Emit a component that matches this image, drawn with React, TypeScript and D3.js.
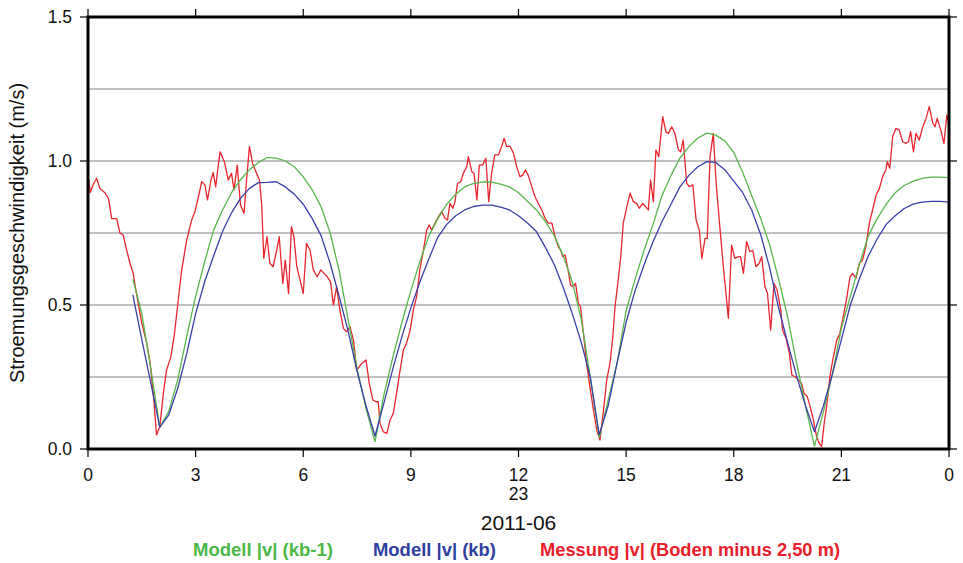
import React from "react";
import * as d3 from "d3";

// Hours of the day (23 June 2011) for the model output, every 15 minutes
const modelHours: number[] = d3.range(1.25, 24.001, 0.25);

// Model |v| (kb-1), m/s
const modelKb1: number[] = [
  0.59, 0.47, 0.28, 0.075,
  0.13, 0.24, 0.39, 0.53, 0.65, 0.76, 0.83, 0.89, 0.935, 0.97, 0.995, 1.012,
  1.01, 1.0, 0.98, 0.945, 0.9, 0.84, 0.75, 0.62, 0.45, 0.28, 0.14, 0.025,
  0.19, 0.32, 0.44, 0.55, 0.65, 0.74, 0.8, 0.85, 0.885, 0.91, 0.922, 0.927,
  0.927, 0.92, 0.91, 0.89, 0.86, 0.83, 0.79, 0.74, 0.67, 0.58, 0.45, 0.25, 0.04,
  0.17, 0.3, 0.48, 0.59, 0.69, 0.78, 0.88, 0.95, 1.01, 1.05, 1.08, 1.097,
  1.09, 1.07, 1.03, 0.96, 0.88, 0.8, 0.71, 0.59, 0.46, 0.3, 0.15, 0.01,
  0.13, 0.26, 0.42, 0.53, 0.64, 0.74, 0.8, 0.85, 0.89, 0.915, 0.93, 0.94, 0.944, 0.944, 0.942,
];

// Model |v| (kb), m/s
const modelKb: number[] = [
  0.535, 0.38, 0.23, 0.076,
  0.118, 0.21, 0.33, 0.47, 0.58, 0.67, 0.755, 0.82, 0.87, 0.905, 0.925, 0.926,
  0.928, 0.91, 0.885, 0.85, 0.8, 0.74, 0.645, 0.53, 0.41, 0.27, 0.15, 0.045,
  0.16, 0.28, 0.39, 0.49, 0.58, 0.66, 0.735, 0.78, 0.81, 0.83, 0.842, 0.847,
  0.847, 0.84, 0.83, 0.81, 0.785, 0.755, 0.7, 0.64, 0.56, 0.47, 0.37, 0.25, 0.05,
  0.15, 0.3, 0.44, 0.55, 0.64, 0.72, 0.79, 0.85, 0.91, 0.95, 0.98, 0.998,
  0.995, 0.97, 0.93, 0.89, 0.83, 0.745, 0.63, 0.49, 0.37, 0.255, 0.15, 0.06,
  0.15, 0.26, 0.38, 0.5, 0.59, 0.67, 0.73, 0.78, 0.81, 0.835, 0.85, 0.857, 0.86, 0.86, 0.857,
];

// Measured |v| near the bottom (2.50 m above bed): time in hours
const measHours: number[] = [
  0.0, 0.06, 0.15, 0.24, 0.33, 0.47, 0.57, 0.66, 0.8, 0.89, 0.98, 1.08, 1.17, 1.26, 1.31, 1.4,
  1.5, 1.64, 1.73, 1.82, 1.91, 2.0, 2.1, 2.19, 2.31, 2.41, 2.5, 2.61, 2.75, 2.89, 2.98, 3.08,
  3.17, 3.26, 3.33, 3.43, 3.49, 3.56, 3.61, 3.68, 3.8, 3.91, 4.0, 4.07, 4.16, 4.25, 4.35, 4.42,
  4.5, 4.59, 4.7, 4.78, 4.84, 4.9, 4.99, 5.07, 5.16, 5.26, 5.33, 5.43, 5.5, 5.59, 5.67, 5.74,
  5.82, 5.91, 6.0, 6.09, 6.19, 6.28, 6.39, 6.49, 6.58, 6.67, 6.76, 6.84, 6.93, 7.02, 7.12, 7.21,
  7.3, 7.4, 7.49, 7.63, 7.75, 7.84, 7.94, 8.03, 8.09, 8.14, 8.23, 8.33, 8.42, 8.51, 8.6, 8.7,
  8.79, 8.88, 8.98, 9.07, 9.16, 9.25, 9.35, 9.44, 9.51, 9.58, 9.67, 9.77, 9.86, 9.95, 10.02, 10.09,
  10.17, 10.23, 10.3, 10.39, 10.46, 10.56, 10.6, 10.7, 10.76, 10.84, 10.91, 11.0, 11.09, 11.17, 11.25, 11.34,
  11.44, 11.53, 11.6, 11.67, 11.76, 11.86, 11.95, 12.04, 12.12, 12.19, 12.27, 12.37, 12.46, 12.55, 12.65, 12.74,
  12.83, 12.93, 13.02, 13.11, 13.18, 13.23, 13.3, 13.39, 13.45, 13.53, 13.59, 13.67, 13.73, 13.81, 13.9, 13.99,
  14.09, 14.18, 14.27, 14.37, 14.46, 14.55, 14.63, 14.69, 14.78, 14.85, 14.92, 15.02, 15.11, 15.2, 15.29, 15.37,
  15.46, 15.55, 15.62, 15.68, 15.76, 15.83, 15.91, 16.02, 16.11, 16.18, 16.27, 16.36, 16.46, 16.52, 16.59, 16.69,
  16.76, 16.86, 16.95, 17.04, 17.11, 17.2, 17.26, 17.34, 17.43, 17.51, 17.62, 17.71, 17.85, 17.94, 18.03, 18.13,
  18.19, 18.27, 18.36, 18.45, 18.53, 18.62, 18.71, 18.78, 18.87, 18.94, 19.03, 19.12, 19.21, 19.31, 19.36, 19.46,
  19.55, 19.62, 19.71, 19.8, 19.89, 19.96, 20.05, 20.13, 20.22, 20.31, 20.38, 20.45, 20.52, 20.59, 20.68, 20.76,
  20.87, 20.96, 21.05, 21.14, 21.24, 21.31, 21.41, 21.5, 21.59, 21.68, 21.78, 21.87, 21.97, 22.06, 22.15, 22.24,
  22.28, 22.35, 22.43, 22.52, 22.61, 22.71, 22.8, 22.87, 22.93, 23.01, 23.08, 23.17, 23.27, 23.36, 23.45, 23.55,
  23.61, 23.67, 23.77, 23.86, 23.94, 24.0,
];

// Measured |v|, m/s
const measValues: number[] = [
  0.96, 0.89, 0.92, 0.94, 0.905, 0.89, 0.87, 0.8, 0.8, 0.75, 0.743, 0.69, 0.645, 0.61, 0.57, 0.506,
  0.436, 0.367, 0.3, 0.193, 0.049, 0.077, 0.193, 0.274, 0.32, 0.4, 0.5, 0.62, 0.725, 0.795, 0.824, 0.876,
  0.928, 0.917, 0.865, 0.934, 0.96, 0.91, 0.963, 1.032, 0.998, 0.934, 0.957, 0.9, 0.986, 0.847, 0.818, 0.934,
  1.05, 0.99, 0.957, 0.934, 0.853, 0.662, 0.737, 0.645, 0.633, 0.69, 0.737, 0.575, 0.656, 0.54, 0.772, 0.737,
  0.633, 0.587, 0.54, 0.714, 0.69, 0.622, 0.598, 0.622, 0.61, 0.598, 0.581, 0.5, 0.563, 0.483, 0.419, 0.407,
  0.425, 0.378, 0.274, 0.297, 0.309, 0.228, 0.17, 0.164, 0.164, 0.089, 0.06, 0.054, 0.1, 0.124, 0.193, 0.274,
  0.344, 0.367, 0.413, 0.483, 0.529, 0.622, 0.69, 0.76, 0.778, 0.76, 0.784, 0.807, 0.824, 0.801, 0.795, 0.853,
  0.836, 0.859, 0.922, 0.928, 0.957, 0.98, 1.015, 0.963, 0.957, 0.865, 0.986, 0.986, 1.009, 0.859, 0.957, 1.021,
  1.021, 1.05, 1.079, 1.05, 1.052, 1.027, 0.98, 0.946, 0.951, 0.969, 0.951, 0.911, 0.876, 0.853, 0.83, 0.801,
  0.784, 0.784, 0.737, 0.702, 0.69, 0.668, 0.674, 0.616, 0.569, 0.563, 0.575, 0.506, 0.494, 0.402, 0.297, 0.216,
  0.135, 0.066, 0.031, 0.135, 0.24, 0.297, 0.39, 0.494, 0.587, 0.668, 0.784, 0.841, 0.888, 0.859, 0.853, 0.836,
  0.853, 0.841, 0.83, 0.934, 0.859, 1.038, 1.015, 1.154, 1.1, 1.096, 1.119, 1.096, 1.038, 1.032, 1.073, 0.922,
  0.911, 0.917, 0.795, 0.76, 0.662, 0.731, 0.731, 1.015, 1.096, 0.922, 0.76, 0.633, 0.454, 0.708, 0.662, 0.668,
  0.668, 0.61, 0.72, 0.685, 0.69, 0.633, 0.645, 0.668, 0.563, 0.541, 0.413, 0.575, 0.552, 0.483, 0.413, 0.384,
  0.332, 0.257, 0.251, 0.24, 0.228, 0.193, 0.182, 0.147, 0.1, 0.043, 0.02, 0.008, 0.089, 0.147, 0.251, 0.309,
  0.378, 0.402, 0.459, 0.517, 0.598, 0.61, 0.593, 0.645, 0.656, 0.702, 0.784, 0.83, 0.882, 0.905, 0.946, 0.969,
  0.998, 0.975, 1.085, 1.113, 1.108, 1.067, 1.061, 1.067, 1.102, 1.032, 1.096, 1.073, 1.119, 1.148, 1.189, 1.131,
  1.119, 1.148, 1.108, 1.061, 1.16, 1.12,
];

const xTickHours: number[] = [0, 3, 6, 9, 12, 15, 18, 21, 24];
const xTickLabels: string[] = ["0", "3", "6", "9", "12", "15", "18", "21", "0"];
const yTicks: number[] = [0, 0.5, 1.0, 1.5];
const yGrid: number[] = [0.25, 0.5, 0.75, 1.0, 1.25];
const dayLabel = "23";
const monthLabel = "2011-06";
const yTitle = "Stroemungsgeschwindigkeit (m/s)";

const legendItems = [
  { label: "Modell |v| (kb-1)", color: "#4cb848", x: 193, w: 140 },
  { label: "Modell |v| (kb)", color: "#2f3f9f", x: 373, w: 123 },
  { label: "Messung |v| (Boden minus 2,50 m)", color: "#e8202a", x: 540, w: 300 },
];

const W = 963;
const H = 563;
const plot = { left: 88, right: 949, top: 17, bottom: 449 };
const FONT = "'Liberation Sans', Arial, Helvetica, sans-serif";

export default function App() {
  const x = d3.scaleLinear().domain([0, 24]).range([plot.left, plot.right]);
  const y = d3.scaleLinear().domain([0, 1.5]).range([plot.bottom, plot.top]);

  const modelLine = d3
    .line<number>()
    .x((_, i) => x(modelHours[i]))
    .y((d) => y(d));
  const measLine = d3
    .line<number>()
    .x((_, i) => x(measHours[i]))
    .y((d) => y(d));

  return (
    <svg
      width={W}
      height={H}
      viewBox={`0 0 ${W} ${H}`}
      style={{ position: "absolute", left: 0, top: 0, background: "#fff" }}
      fontFamily={FONT}
    >
      <defs>
        <clipPath id="plotClip">
          <rect x={plot.left} y={plot.top} width={plot.right - plot.left} height={plot.bottom - plot.top} />
        </clipPath>
      </defs>

      {/* horizontal grid */}
      {yGrid.map((v) => (
        <line key={"g" + v} x1={plot.left} x2={plot.right} y1={y(v)} y2={y(v)} stroke="#ababab" strokeWidth={1.4} />
      ))}

      {/* series */}
      <g clipPath="url(#plotClip)" fill="none" strokeLinejoin="round">
        <path d={measLine(measValues) || ""} stroke="#e8262e" strokeWidth={1.3} />
        <path d={modelLine(modelKb1) || ""} stroke="#56b84a" strokeWidth={1.3} />
        <path d={modelLine(modelKb) || ""} stroke="#3a3fa8" strokeWidth={1.3} />
      </g>

      {/* frame */}
      <rect
        x={plot.left}
        y={plot.top}
        width={plot.right - plot.left}
        height={plot.bottom - plot.top}
        fill="none"
        stroke="#000"
        strokeWidth={3}
      />

      {/* x ticks, bottom and top */}
      {xTickHours.map((h) => (
        <g key={"xt" + h}>
          <line x1={x(h)} x2={x(h)} y1={plot.bottom} y2={plot.bottom + 8} stroke="#000" strokeWidth={1.2} />
          <line x1={x(h)} x2={x(h)} y1={plot.top - 8} y2={plot.top} stroke="#000" strokeWidth={1.2} />
        </g>
      ))}
      {xTickHours.map((h, i) => (
        <text key={"xl" + h} x={x(h)} y={481} fontSize={17.5} textAnchor="middle" fill="#111">
          {xTickLabels[i]}
        </text>
      ))}
      <text x={x(12)} y={500} fontSize={17.5} textAnchor="middle" fill="#111">
        {dayLabel}
      </text>
      <text x={x(12)} y={530} fontSize={21} textAnchor="middle" fill="#111">
        {monthLabel}
      </text>

      {/* y ticks, left and right */}
      {yTicks.map((v) => (
        <g key={"yt" + v}>
          <line x1={plot.left - 8} x2={plot.left} y1={y(v)} y2={y(v)} stroke="#000" strokeWidth={1.2} />
          <line x1={plot.right} x2={plot.right + 8} y1={y(v)} y2={y(v)} stroke="#000" strokeWidth={1.2} />
          <text x={72} y={y(v)} dy="0.36em" fontSize={17.5} textAnchor="end" fill="#111">
            {v.toFixed(1)}
          </text>
        </g>
      ))}

      <text
        transform={`translate(24, ${(plot.top + plot.bottom) / 2}) rotate(-90)`}
        fontSize={20}
        textAnchor="middle"
        fill="#111"
      >
        {yTitle}
      </text>

      {/* legend */}
      {legendItems.map((it) => (
        <text
          key={it.label}
          x={it.x}
          y={556}
          fontSize={17.5}
          fontWeight="bold"
          fill={it.color}
          textLength={it.w}
          lengthAdjust="spacingAndGlyphs"
        >
          {it.label}
        </text>
      ))}
    </svg>
  );
}
